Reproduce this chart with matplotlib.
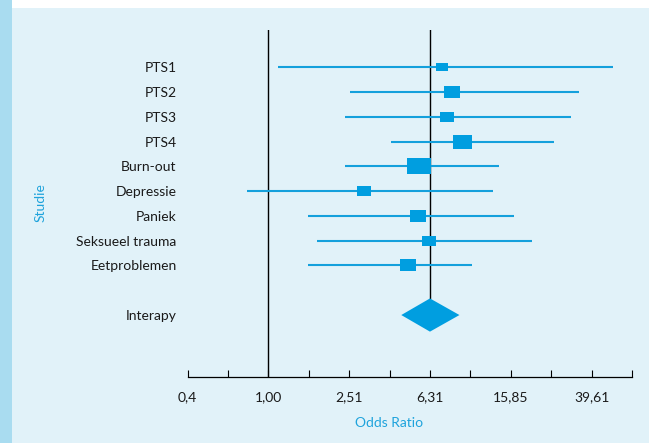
"""
Forest plot: odds ratios per study with the pooled Interapy estimate.
"""

import matplotlib
matplotlib.use('Agg')
import matplotlib.pyplot as plt
from matplotlib.patches import Rectangle

# Data
studies = ['PTS1', 'PTS2', 'PTS3', 'PTS4', 'Burn-out', 'Depressie',
           'Paniek', 'Seksueel trauma', 'Eetproblemen']
odds = [7.20, 8.07, 7.62, 9.10, 5.55, 2.99, 5.53, 6.21, 4.89]
lower = [1.12, 2.55, 2.39, 4.04, 2.39, 0.78, 1.58, 1.74, 1.58]
upper = [50.7, 34.4, 31.6, 25.8, 13.8, 13.0, 16.4, 20.1, 10.2]
weights = [12, 16, 14, 19, 24, 14, 16, 14, 16]

pooled_label = 'Interapy'
pooled = 6.31
pooled_lo = 4.55
pooled_hi = 8.83

tick_values = [0.398, 0.631, 1.0, 1.585, 2.512, 3.981, 6.31, 10.0,
               15.85, 25.12, 39.81, 63.1]
tick_labels = ['0,4', '', '1,00', '', '2,51', '', '6,31', '',
               '15,85', '', '39,61', '']

BLUE = '#009ee0'
LINE = '#14a0dc'
TEXT_BLUE = '#1ea3dc'
BG = '#e1f2f9'

plt.rcParams['font.family'] = ['Lato', 'DejaVu Sans']
plt.rcParams['font.size'] = 10

W, H = 649, 443
fig = plt.figure(figsize=(W / 100, H / 100), dpi=100, facecolor=BG)

#background strips
fig.patches.append(Rectangle((0, 1 - 8 / H), 1, 8 / H, transform=fig.transFigure,
                             facecolor='white', edgecolor='none', zorder=0))
fig.patches.append(Rectangle((0, 0), 12 / W, 1, transform=fig.transFigure,
                             facecolor='#a9dcf0', edgecolor='none', zorder=0))

left, right = 187.5 / W, 632 / W
bottom, top = 1 - 377 / H, 1 - 30 / H
ax = fig.add_axes([left, bottom, right - left, top - bottom])
ax.set_facecolor('none')
ax.set_xscale('log')
ax.set_xlim(tick_values[0], tick_values[-1])
pooled_row = len(studies) + 1
ax.set_ylim(pooled_row + 2.5, -1.5)

rows = list(range(len(studies)))
box = [(-1.45, -1), (1.45, -1), (1.45, 1), (-1.45, 1), (-1.45, -1)]
for y, est, lo, hi, w in zip(rows, odds, lower, upper, weights):
  ax.plot([lo, hi], [y, y], color=LINE, lw=1.5, solid_capstyle='butt', zorder=2)
  ax.plot([est], [y], marker=box, ms=w * 0.72, color=BLUE, mew=0, zorder=3)

#pooled diamond
half = 0.67
ax.fill([pooled_lo, pooled, pooled_hi, pooled],
        [pooled_row, pooled_row - half, pooled_row, pooled_row + half],
        color=BLUE, lw=0, zorder=3)

#reference lines
ax.axvline(1.0, color='black', lw=1.0, zorder=1)
ax.plot([pooled, pooled], [-1.5, pooled_row - half], color='black', lw=1.0, zorder=1)

ax.set_yticks(rows + [pooled_row], studies + [pooled_label])
ax.tick_params(axis='y', length=0, pad=7.8, labelcolor='#1a1a1a')

ax.set_xticks(tick_values, tick_labels)
ax.minorticks_off()
ax.tick_params(axis='x', direction='in', length=5, width=0.8, pad=10,
               labelcolor='#1a1a1a')

for s in ['left', 'right', 'top']:
  ax.spines[s].set_visible(False)
ax.spines['bottom'].set_linewidth(0.9)

fig.text(389 / W, 1 - 423 / H, 'Odds Ratio', color=TEXT_BLUE, ha='center', va='center')
fig.text(40.7 / W, 1 - 203 / H, 'Studie', color=TEXT_BLUE, rotation=90,
         ha='center', va='center')

fig.savefig('out.png', dpi=100, facecolor=BG)
